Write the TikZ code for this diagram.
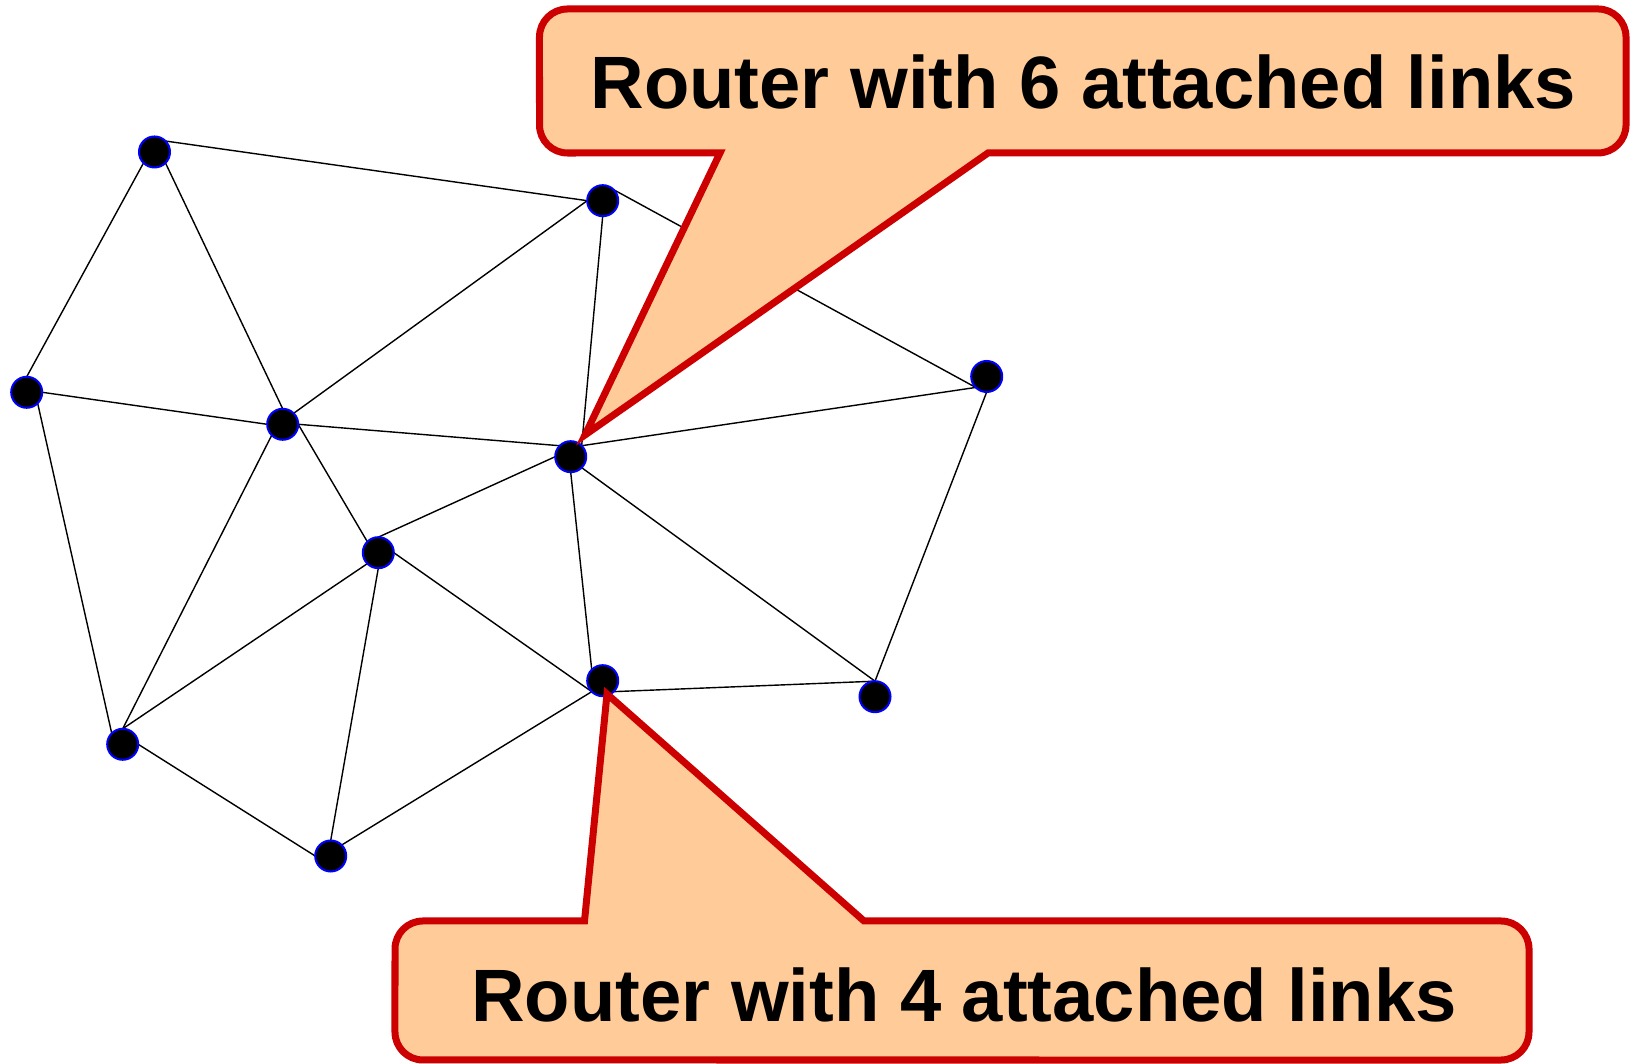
\documentclass[tikz,border=0pt]{standalone}
\usepackage{fontspec}
\setmainfont{Liberation Sans}
\usetikzlibrary{backgrounds}
\definecolor{calloutfill}{RGB}{255,204,153}
\definecolor{calloutline}{RGB}{204,0,0}
\begin{document}
\begin{tikzpicture}[x=0.01cm,y=0.01cm,
  router/.style={circle,fill=black,draw=blue,line width=0.02cm,
                 minimum size=0.31cm,inner sep=0pt,outer sep=0pt},
  linkline/.style={line width=0.023cm,black},
  calloutbox/.style={fill=calloutfill,draw=calloutline,line width=0.07cm,line join=miter},
  callouttext/.style={font=\fontsize{21.1pt}{25pt}\selectfont\bfseries,
                      anchor=base west,inner sep=0pt}]
\useasboundingbox (0,0) rectangle (1633,1064);

% routers
\node[router] (A) at (154.5,912) {};
\node[router] (B) at (602.7,863.3) {};
\node[router] (C) at (26.7,671.7) {};
\node[router] (D) at (282.7,639.7) {};
\node[router] (E) at (570.7,607.3) {};
\node[router] (F) at (986.7,687.5) {};
\node[router] (G) at (378.3,511.3) {};
\node[router] (H) at (602.7,383.3) {};
\node[router] (I) at (875,367.3) {};
\node[router] (J) at (122.7,319.7) {};
\node[router] (K) at (330.7,208) {};

% links
\begin{scope}[on background layer,linkline]
\draw (A.north east) -- (B.west);
\draw (A.south west) -- (C.north);
\draw (A.south east) -- (D.north);
\draw (B.west) -- (D.north east);
\draw (B.south) -- (E.north east);
\draw (B.north east) -- (F.south west);
\draw (C.east) -- (D.west);
\draw (C.south east) -- (J.north west);
\draw (D.east) -- (E.north west);
\draw (D.south west) -- (J.north);
\draw (D.east) -- (G.north west);
\draw (E.north east) -- (F.south west);
\draw (E.west) -- (G.north);
\draw (E.south) -- (H.north west);
\draw (E.south east) -- (I.north);
\draw (F.south) -- (I.north);
\draw (G.east) -- (H.south west);
\draw (G.south west) -- (J.north);
\draw (G.south) -- (K.north);
\draw (H.south west) -- (K.north east);
\draw (H.south east) -- (I.north);
\draw (J.east) -- (K.west);
\end{scope}

% upper callout
\draw[calloutbox] (720,911) -- (585,629) -- (988,911) -- (1598,911)
  arc[start angle=-90,end angle=0,radius=0.28cm] -- (1626,1027)
  arc[start angle=0,end angle=90,radius=0.28cm] -- (567.5,1055)
  arc[start angle=90,end angle=180,radius=0.28cm] -- (539.5,939)
  arc[start angle=180,end angle=270,radius=0.28cm] -- cycle;
\node[callouttext] (T1) at (590,955) {Router with 6 attached links};

% lower callout
\draw[calloutbox] (584.5,143) -- (607,370) -- (864,143) -- (1501,143)
  arc[start angle=90,end angle=0,radius=0.28cm] -- (1529,32)
  arc[start angle=0,end angle=-90,radius=0.28cm] -- (423,4)
  arc[start angle=270,end angle=180,radius=0.28cm] -- (395,115)
  arc[start angle=180,end angle=90,radius=0.28cm] -- cycle;
\node[callouttext] (T2) at (470.7,42.3) {Router with 4 attached links};
\end{tikzpicture}
\end{document}
